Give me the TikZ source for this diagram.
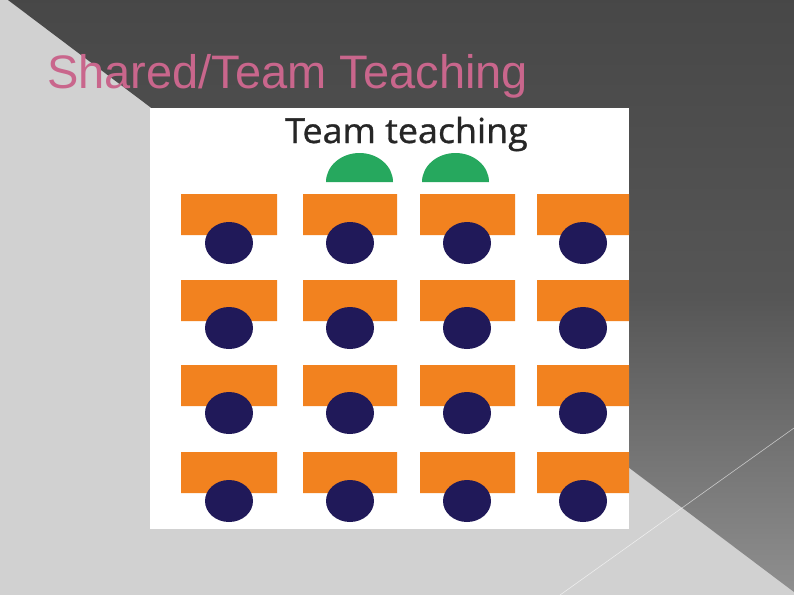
\documentclass[tikz,border=0pt]{standalone}
\usepackage{fontspec}
\setmainfont{Liberation Sans}
\newfontfamily\panelfont[FakeBold=0.9, FakeStretch=1.04]{Open Sans}
\definecolor{mypink}{rgb}{0.79,0.40,0.55}
\definecolor{myorange}{rgb}{0.95,0.51,0.12}
\definecolor{mynavy}{rgb}{0.125,0.10,0.35}
\definecolor{mygreen}{rgb}{0.15,0.66,0.37}
\definecolor{mylight}{rgb}{0.82,0.82,0.82}
\definecolor{mydark}{rgb}{0.28,0.28,0.28}
\definecolor{mymid}{rgb}{0.56,0.56,0.56}
\begin{document}
\begin{tikzpicture}[x=1pt, y=-1pt]
			\useasboundingbox (0,0) rectangle (794,595);
			% Draw the background and the dark wedge
			\fill[color=mylight] (0,0) rectangle (794,595);
			\shade[top color=mydark, bottom color=mymid, middle color=mydark!80!mymid] (8,0) -- (794,0) -- (794,592) -- cycle;
			\draw[color=white, opacity=0.6, line width=0.6pt] (560,595) -- (794,428);

			% Put the title
			\node[anchor=base west, inner sep=0pt, color=mypink] (title) at (47,88) {\fontsize{47}{50}\selectfont Shared/Team Teaching};

			% Draw the white panel
			\fill[color=white] (150,108) rectangle (629,529);
			\node[anchor=base, inner sep=0pt, color=black!85!white] (caption) at (406.5,143) {\panelfont\fontsize{34.5}{38}\selectfont Team teaching};

			% Draw the two teachers
			\fill[color=mygreen] (326,182) arc[start angle=180, end angle=0, x radius=33.5pt, y radius=29pt] -- cycle;
			\fill[color=mygreen] (422,182) arc[start angle=180, end angle=0, x radius=33.5pt, y radius=29pt] -- cycle;

			% Draw the desks, row by row
			\fill[color=myorange] (181,194) rectangle (277,235) (303,194) rectangle (397,235) (420,194) rectangle (515,235) (537,194) rectangle (629,235);
			\fill[color=myorange] (181,280) rectangle (277,321) (303,280) rectangle (397,321) (420,280) rectangle (515,321) (537,280) rectangle (629,321);
			\fill[color=myorange] (181,365) rectangle (277,406) (303,365) rectangle (397,406) (420,365) rectangle (515,406) (537,365) rectangle (629,406);
			\fill[color=myorange] (181,452) rectangle (277,493) (303,452) rectangle (397,493) (420,452) rectangle (515,493) (537,452) rectangle (629,493);

			% Draw the students
			\fill[color=mynavy] (229,243) ellipse[x radius=24pt, y radius=21pt] (350,243) ellipse[x radius=24pt, y radius=21pt] (467,243) ellipse[x radius=24pt, y radius=21pt] (583,243) ellipse[x radius=24pt, y radius=21pt];
			\fill[color=mynavy] (229,328) ellipse[x radius=24pt, y radius=21pt] (350,328) ellipse[x radius=24pt, y radius=21pt] (467,328) ellipse[x radius=24pt, y radius=21pt] (583,328) ellipse[x radius=24pt, y radius=21pt];
			\fill[color=mynavy] (229,413) ellipse[x radius=24pt, y radius=21pt] (350,413) ellipse[x radius=24pt, y radius=21pt] (467,413) ellipse[x radius=24pt, y radius=21pt] (583,413) ellipse[x radius=24pt, y radius=21pt];
			\fill[color=mynavy] (229,501) ellipse[x radius=24pt, y radius=21pt] (350,501) ellipse[x radius=24pt, y radius=21pt] (467,501) ellipse[x radius=24pt, y radius=21pt] (583,501) ellipse[x radius=24pt, y radius=21pt];
		\end{tikzpicture}
\end{document}
